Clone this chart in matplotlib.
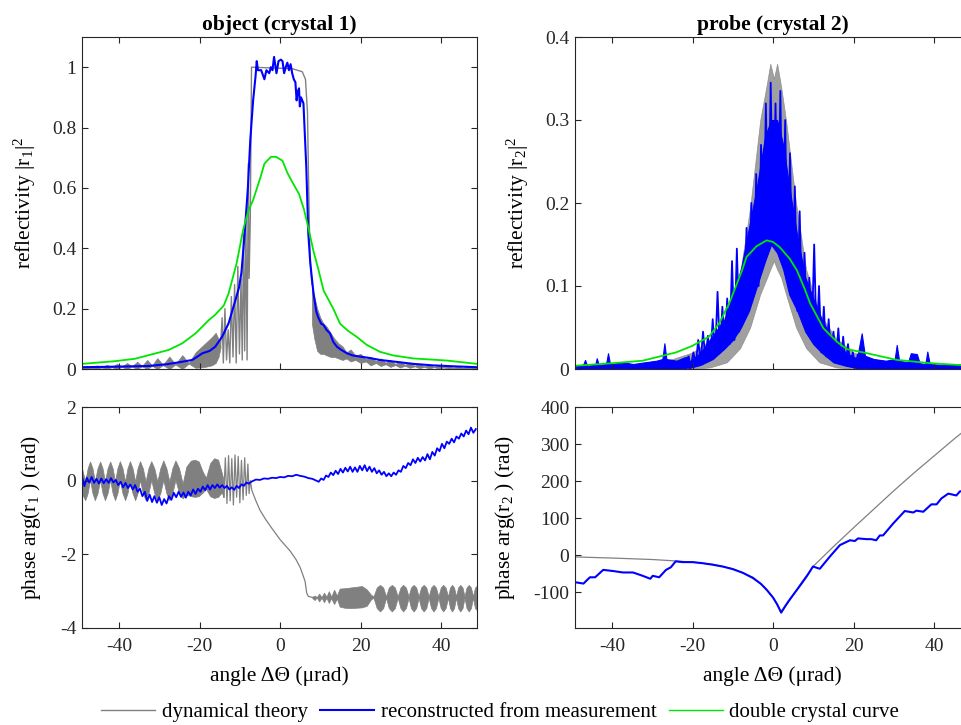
import numpy as np
import matplotlib
matplotlib.use("Agg")
import matplotlib.pyplot as plt
from matplotlib.lines import Line2D

plt.rcParams.update({
    "font.family": ["Liberation Serif", "DejaVu Serif"],
    "mathtext.fontset": "custom",
    "mathtext.rm": "Liberation Serif",
    "mathtext.it": "Liberation Serif:italic",
    "axes.unicode_minus": False,
})

GRAY = "#808080"
BLUE = "#0000ff"
GREEN = "#00e600"
AXC = "#262626"

# ------------------------------------------------------------------ data
# object (crystal 1) reflectivity -- dynamical theory, dense-oscillation envelope (left tail)
obj_th_left_x = [-49.2, -48.0, -46.8, -45.5, -44.3, -43.0, -41.8, -40.5, -39.3, -38.0, -36.8, -35.5,
                 -34.3, -33.0, -31.8, -30.5, -29.1, -27.5, -26.0, -24.3, -22.7, -21.0, -19.0, -17.0,
                 -16.0, -15.3, -14.8]
obj_th_left_lo = [0.003, 0.0, 0.004, 0.0, 0.005, 0.0, 0.006, 0.0, 0.007, 0.0, 0.008, 0.0,
                  0.009, 0.0, 0.011, 0.0, 0.013, 0.0, 0.015, 0.0, 0.018, 0.004, 0.006, 0.012,
                  0.02, 0.04, 0.07]
obj_th_left_hi = [0.004, 0.010, 0.005, 0.012, 0.006, 0.014, 0.007, 0.017, 0.008, 0.020, 0.009, 0.024,
                  0.010, 0.030, 0.012, 0.036, 0.014, 0.041, 0.016, 0.046, 0.020, 0.055, 0.080, 0.105,
                  0.12, 0.10, 0.075]
# dynamical theory: fringes, total-reflection plateau and edge
obj_th_mid_x = [-14.8, -14.4, -14.1, -13.7, -13.3, -12.9, -12.5, -12.1, -11.7, -11.3, -10.9, -10.5,
                -10.1, -9.7, -9.4, -9.1, -8.8, -8.5, -8.2, -7.9, -7.7, -7.4, -7.1, 3.0, 5.5, 6.3,
                6.8, 7.1, 7.4, 7.9]
obj_th_mid_y = [0.075, 0.17, 0.02, 0.20, 0.03, 0.13, 0.02, 0.24, 0.04, 0.28, 0.02, 0.34,
                0.05, 0.30, 0.03, 0.45, 0.06, 0.51, 0.03, 0.68, 0.30, 0.50, 1.0, 0.995, 0.985, 0.96,
                0.85, 0.60, 0.38, 0.28]
# dynamical theory: right tail envelope
obj_th_right_x = [7.9, 8.5, 9.2, 10.0, 10.8, 11.6, 12.5, 13.5, 14.5, 15.5, 16.5, 17.5, 18.7, 20.0,
                  21.3, 22.5, 23.8, 25.0, 26.2, 27.4, 28.6, 29.8, 31.0, 32.2, 33.4, 34.6, 35.8,
                  37.0, 38.2, 39.4, 40.6, 41.8, 43.0, 44.2, 45.4, 46.6, 47.8, 48.9]
obj_th_right_lo = [0.15, 0.10, 0.06, 0.05, 0.05, 0.045, 0.04, 0.04, 0.035, 0.03, 0.035, 0.025, 0.03,
                   0.02, 0.025, 0.012, 0.02, 0.01, 0.016, 0.007, 0.013, 0.005, 0.011, 0.004, 0.009,
                   0.003, 0.007, 0.002, 0.006, 0.002, 0.005, 0.001, 0.004, 0.001, 0.003, 0.001,
                   0.003, 0.001]
obj_th_right_hi = [0.28, 0.24, 0.20, 0.17, 0.15, 0.14, 0.12, 0.10, 0.085, 0.075, 0.055, 0.065, 0.045,
                   0.05, 0.033, 0.04, 0.026, 0.035, 0.021, 0.03, 0.017, 0.025, 0.014, 0.022, 0.011,
                   0.018, 0.009, 0.015, 0.007, 0.012, 0.006, 0.010, 0.005, 0.009, 0.004, 0.008,
                   0.004, 0.007]
# reconstructed
obj_rec_x = [-49.2, -44.0, -40.0, -36.0, -32.6, -28.0, -24.3, -21.8, -19.3, -17.5, -16.1, -14.4,
             -12.8, -11.1, -10.2, -9.6, -8.8, -8.0, -7.4, -6.7, -6.1, -5.8, -5.5, -4.7, -3.9,
             -3.4, -2.7, -2.3, -1.9, -1.5, -0.9, -0.4, 0.2, 0.6, 1.0, 1.4, 1.8, 2.2, 2.6, 3.0,
             3.4, 3.8, 4.1, 4.4, 4.7, 4.9, 5.2, 5.8, 6.5, 7.0, 7.5, 8.3, 9.0, 9.5, 10.2, 10.8,
             11.5, 12.4, 13.2, 14.1, 15.0, 16.6, 18.0, 19.9, 22.0, 24.8, 28.0, 33.1, 38.0, 43.0,
             48.9]
obj_rec_y = [0.006, 0.007, 0.008, 0.009, 0.010, 0.016, 0.024, 0.030, 0.052, 0.060, 0.074, 0.107,
             0.151, 0.228, 0.27, 0.32, 0.45, 0.60, 0.76, 0.89, 0.97, 1.02, 0.99, 0.99, 0.96,
             0.99, 0.98, 1.00, 0.99, 1.034, 0.98, 1.02, 1.025, 1.02, 0.98, 1.00, 1.015, 0.99, 1.01, 0.98,
             0.96, 0.95, 0.89, 0.92, 0.93, 0.87, 0.90, 0.88, 0.67, 0.45, 0.35, 0.25, 0.19, 0.17, 0.15,
             0.146, 0.13, 0.118, 0.09, 0.074, 0.065, 0.052, 0.045, 0.041, 0.037, 0.030, 0.025,
             0.017, 0.012, 0.009, 0.006]
# double crystal curve
obj_dc_x = [-49.2, -40.9, -36.0, -32.6, -27.7, -24.3, -21.0, -17.7, -16.1, -14.0, -12.8, -10.8,
            -9.2, -8.0, -6.7, -5.0, -3.9, -2.3, -1.0, 0.6, 1.8, 3.0, 4.7, 5.9, 6.8, 8.3, 9.5,
            10.8, 13.2, 14.9, 17.0, 19.0, 21.5, 24.8, 28.1, 33.1, 41.4, 48.9]
obj_dc_y = [0.017, 0.026, 0.034, 0.046, 0.063, 0.085, 0.118, 0.162, 0.18, 0.21, 0.25, 0.35,
            0.46, 0.52, 0.56, 0.63, 0.68, 0.703, 0.703, 0.69, 0.65, 0.62, 0.58, 0.53, 0.48, 0.39,
            0.33, 0.26, 0.20, 0.15, 0.125, 0.107, 0.08, 0.057, 0.045, 0.035, 0.028, 0.017]

# probe (crystal 2) reflectivity
prb_th_x = [-48.9, -40.0, -30.0, -25.0, -20.0, -15.6, -11.5, -8.2, -5.7, -3.2, -1.5, -0.7, 0.2,
            1.0, 2.0, 3.2, 5.7, 8.2, 11.5, 15.6, 20.0, 25.0, 30.0, 40.0, 48.9]
prb_th_lo = [0.0, 0.0, 0.0, 0.0, 0.0, 0.002, 0.008, 0.025, 0.05, 0.09, 0.11, 0.12, 0.13,
             0.12, 0.11, 0.09, 0.05, 0.025, 0.008, 0.002, 0.0, 0.0, 0.0, 0.0, 0.0]
prb_th_hi = [0.003, 0.004, 0.007, 0.012, 0.02, 0.035, 0.067, 0.115, 0.195, 0.30, 0.345, 0.368, 0.35,
             0.368, 0.34, 0.30, 0.20, 0.12, 0.067, 0.037, 0.02, 0.012, 0.008, 0.005, 0.004]
# reconstructed: noisy tails (envelope), dense central band and its spikes
prb_rec_tail_left_x = [-48.9, -47.2, -46.7, -46.2, -44.2, -43.8, -43.3, -41.5, -41.0, -40.5, -37.0,
                       -34.8, -32.0, -29.0, -27.5, -27.0, -26.5, -24.0, -22.0, -21.0]
prb_rec_tail_left_lo = [0.0, 0.0, 0.0, 0.001, 0.001, 0.0, 0.001, 0.001, 0.0, 0.001, 0.001,
                        0.0, 0.001, 0.0, 0.0, 0.0, 0.0, 0.0, 0.001, 0.002]
prb_rec_tail_left_hi = [0.004, 0.005, 0.011, 0.004, 0.005, 0.013, 0.005, 0.006, 0.019, 0.006, 0.008,
                        0.006, 0.008, 0.010, 0.012, 0.031, 0.012, 0.010, 0.014, 0.015]
prb_rec_tail_right_x = [21.0, 22.0, 22.8, 25.0, 28.0, 30.2, 30.7, 31.3, 33.5, 34.2, 35.7, 36.4, 37.8,
                        38.3, 38.9, 42.0, 45.0, 48.9]
prb_rec_tail_right_lo = [0.001, 0.001, 0.001, 0.0, 0.0, 0.0, 0.0, 0.0, 0.0, 0.0, 0.0, 0.0, 0.0,
                         0.0, 0.0, 0.0, 0.0, 0.0]
prb_rec_tail_right_hi = [0.017, 0.043, 0.016, 0.012, 0.010, 0.012, 0.029, 0.010, 0.008, 0.019, 0.018,
                         0.007, 0.006, 0.021, 0.006, 0.005, 0.006, 0.004]
prb_rec_band_x = [-21.0, -18.0, -15.0, -12.0, -10.0, -8.0, -6.0, -4.0, -2.0, -0.5, 1.0, 2.5, 4.0,
                  6.0, 8.0, 10.0, 12.0, 15.0, 18.0, 21.0]
prb_rec_band_lo = [0.001, 0.005, 0.012, 0.025, 0.035, 0.05, 0.07, 0.10, 0.13, 0.15, 0.14, 0.12, 0.09,
                   0.07, 0.045, 0.03, 0.02, 0.008, 0.004, 0.001]
prb_rec_band_hi = [0.008, 0.020, 0.040, 0.060, 0.090, 0.12, 0.17, 0.22, 0.28, 0.30, 0.30, 0.27, 0.22,
                   0.16, 0.11, 0.085, 0.06, 0.035, 0.020, 0.012]
prb_rec_core_x = [-21.0, -20.4, -19.8, -19.2, -18.6, -18.0, -17.4, -16.8, -16.2, -15.6, -15.0, -14.4,
                  -13.8, -13.2, -12.6, -12.0, -11.4, -10.8, -10.2, -9.6, -9.0, -8.4, -7.8, -7.2,
                  -6.6, -6.0, -5.4, -4.8, -4.2, -3.6, -3.0, -2.4, -1.8, -1.2, -0.6, 0.0, 0.6, 1.2,
                  1.8, 2.4, 3.0, 3.6, 4.2, 4.8, 5.4, 6.0, 6.6, 7.2, 7.8, 8.4, 9.0, 9.6, 10.2, 10.8,
                  11.4, 12.0, 12.6, 13.2, 13.8, 14.4, 15.0, 15.6, 16.2, 16.8, 17.4, 18.0, 18.6,
                  19.2, 19.8, 20.4, 21.0]
prb_rec_core_y = [0.015, 0.003, 0.020, 0.005, 0.035, 0.008, 0.045, 0.010, 0.040, 0.012, 0.060, 0.015,
                  0.093, 0.020, 0.075, 0.025, 0.085, 0.030, 0.130, 0.035, 0.145, 0.045, 0.120, 0.060,
                  0.170, 0.075, 0.200, 0.090, 0.235, 0.100, 0.270, 0.130, 0.320, 0.150, 0.345, 0.160,
                  0.320, 0.140, 0.335, 0.130, 0.300, 0.110, 0.260, 0.090, 0.220, 0.070, 0.190, 0.060,
                  0.140, 0.045, 0.110, 0.035, 0.150, 0.030, 0.100, 0.020, 0.075, 0.015, 0.060, 0.012,
                  0.045, 0.008, 0.049, 0.006, 0.039, 0.005, 0.030, 0.004, 0.020, 0.003, 0.017]
prb_dc_x = [-48.9, -39.8, -32.4, -24.1, -20.0, -15.9, -13.4, -10.9, -9.3, -7.7, -6.6, -4.1, -1.6,
            0.0, 1.6, 4.1, 5.9, 7.8, 9.2, 12.5, 15.8, 18.3, 23.3, 30.7, 39.0, 48.9]
prb_dc_y = [0.004, 0.007, 0.010, 0.020, 0.028, 0.039, 0.055, 0.079, 0.099, 0.119, 0.135, 0.148, 0.155,
            0.153, 0.147, 0.133, 0.119, 0.097, 0.079, 0.049, 0.033, 0.024, 0.019, 0.011, 0.007, 0.004]

# object phase
obj_ph_th_left_x = [-49.2, -48.4, -47.8, -47.2, -46.6, -46.0, -45.35, -44.7, -44.1, -43.5, -42.85,
                    -42.2, -41.6, -41.0, -40.4, -39.8, -39.15, -38.5, -37.9, -37.3, -36.65, -36.0,
                    -35.4, -34.8, -34.1, -33.4, -32.7, -32.0, -31.25, -30.5, -29.75, -29.0, -28.25,
                    -27.5, -26.75, -26.0, -25.1, -24.2, -23.3, -22.2, -21.2, -20.2, -19.2, -18.4,
                    -17.4, -16.4, -15.4, -14.5, -14.0]
obj_ph_th_left_lo = [-0.36, -0.53, -0.34, 0.02, -0.34, -0.53, -0.34, 0.02, -0.34, -0.53, -0.34,
                     0.02, -0.34, -0.53, -0.34, 0.02, -0.34, -0.53, -0.34, 0.02, -0.34, -0.53,
                     -0.34, 0.02, -0.34, -0.53, -0.34, 0.02, -0.34, -0.53, -0.34, 0.02, -0.34,
                     -0.53, -0.34, 0.02, -0.34, -0.48, -0.38, -0.42, -0.44, -0.42, -0.32, -0.22,
                     -0.42, -0.47, -0.44, -0.32, -0.45]
obj_ph_th_left_hi = [0.33, -0.02, 0.34, 0.52, 0.34, -0.02, 0.34, 0.52, 0.34, -0.02, 0.34,
                     0.52, 0.34, -0.02, 0.34, 0.53, 0.34, -0.02, 0.34, 0.53, 0.34, -0.02,
                     0.34, 0.53, 0.34, -0.02, 0.34, 0.53, 0.34, -0.02, 0.34, 0.55, 0.34,
                     -0.02, 0.34, 0.55, 0.34, -0.08, 0.38, 0.54, 0.57, 0.52, 0.24, 0.08,
                     0.47, 0.61, 0.57, 0.22, 0.0]
obj_ph_th_mid_x = [-14.0, -13.6, -13.2, -12.8, -12.4, -12.0, -11.6, -11.2, -10.8, -10.4, -10.0, -9.6,
                   -9.2, -8.8, -8.4, -8.0, -7.7, -7.4, -7.0, -6.0, -5.0, -3.6, -2.0, 0.0, 2.5, 4.0,
                   5.0, 6.2, 6.6, 7.0, 8.0]
obj_ph_th_mid_y = [-0.45, 0.62, -0.62, 0.68, -0.55, 0.60, -0.66, 0.70, -0.45, 0.66, -0.60, 0.55,
                   -0.52, 0.62, -0.40, 0.45, -0.35, 0.0, -0.27, -0.55, -0.80, -1.05, -1.30, -1.60,
                   -1.91, -2.15, -2.36, -2.73, -3.05, -3.14, -3.17]
obj_ph_th_right_x = [8.0, 8.6, 9.1, 9.7, 10.3, 10.9, 11.5, 12.1, 12.7, 13.4, 14.1, 14.8, 16.0, 17.5,
                     19.0, 20.3, 21.5, 22.6, 23.2, 24.0, 24.8, 25.6, 26.3, 27.0, 27.75, 28.5, 29.2,
                     29.9, 30.55, 31.25, 31.9, 32.5, 33.15, 33.8, 34.4, 35.0, 35.65, 36.3, 36.9,
                     37.5, 38.1, 38.7, 39.3, 39.9, 40.5, 41.1, 41.7, 42.2, 42.7, 43.2, 43.7, 44.2,
                     44.75, 45.3, 45.8, 46.3, 46.85, 47.4, 47.9, 48.4, 48.9]
obj_ph_th_right_lo = [-3.19, -3.24, -3.17, -3.28, -3.18, -3.30, -3.18, -3.32, -3.19, -3.35, -3.20,
                      -3.42, -3.45, -3.46, -3.45, -3.44, -3.40, -3.22, -3.18,
                      -3.46, -3.55, -3.46, -3.18, -3.46, -3.55, -3.46, -3.18,
                      -3.46, -3.55, -3.46, -3.18, -3.46, -3.55, -3.46, -3.18, -3.46, -3.55, -3.46, -3.18,
                      -3.46, -3.55, -3.46, -3.18, -3.46, -3.55, -3.46, -3.18, -3.46, -3.55, -3.46,
                      -3.18, -3.46, -3.55, -3.46, -3.18, -3.46, -3.55, -3.46, -3.18, -3.46, -3.52]
obj_ph_th_right_hi = [-3.15, -3.12, -3.16, -3.07, -3.16, -3.04, -3.15, -3.00, -3.15, -2.96, -3.12,
                      -2.93, -2.92, -2.90, -2.88, -2.86, -2.95, -3.10, -3.14,
                      -2.90, -2.83, -2.90, -3.14, -2.90, -2.83, -2.90, -3.14,
                      -2.90, -2.83, -2.90, -3.14, -2.90, -2.83, -2.90, -3.14, -2.90, -2.83, -2.90, -3.14,
                      -2.90, -2.83, -2.90, -3.14, -2.90, -2.83, -2.90, -3.14, -2.90, -2.83, -2.90,
                      -3.14, -2.90, -2.83, -2.90, -3.14, -2.90, -2.83, -2.90, -3.14, -2.90, -2.85]
obj_ph_rec_left_y = [0.12, -0.15, 0.08, -0.05, 0.10, -0.06, 0.05, -0.08, 0.06, -0.07, 0.04, -0.06,
                     0.07, -0.05, 0.02, -0.12, -0.03, -0.18, -0.06, -0.20, -0.10, -0.24, -0.12, -0.30,
                     -0.22, -0.42, -0.30, -0.55, -0.38, -0.58, -0.42, -0.60, -0.45, -0.66, -0.50, -0.62,
                     -0.42, -0.52, -0.33, -0.45, -0.30, -0.44, -0.32, -0.46, -0.30, -0.40, -0.24, -0.36,
                     -0.22, -0.30, -0.16, -0.26, -0.12, -0.24, -0.12, -0.20, -0.10, -0.19, -0.12, -0.20,
                     -0.14, -0.24, -0.18, -0.25, -0.14, -0.20, -0.10, -0.14, -0.05, -0.08]
obj_ph_rec_mid_x = [-7.0, -6.0, -5.0, -4.0, -3.0, -2.0, -1.0, 0.0, 1.0, 2.0, 3.0, 4.0, 5.0, 6.0, 7.0, 8.0, 9.0]
obj_ph_rec_mid_y = [-0.02, 0.03, 0.02, 0.06, 0.05, 0.08, 0.07, 0.10, 0.09, 0.13, 0.12, 0.16, 0.13,
                    0.11, 0.07, 0.05, 0.00]
obj_ph_rec_right_y = [-0.03, 0.06, 0.02, 0.14, 0.10, 0.22, 0.15, 0.27, 0.18, 0.32, 0.22, 0.35, 0.25,
                      0.38, 0.24, 0.36, 0.24, 0.40, 0.28, 0.42, 0.26, 0.38, 0.24, 0.34, 0.20, 0.28,
                      0.16, 0.24, 0.12, 0.20, 0.12, 0.22, 0.16, 0.28, 0.24, 0.40, 0.34, 0.48, 0.42,
                      0.58, 0.48, 0.62, 0.52, 0.64, 0.55, 0.72, 0.58, 0.78, 0.68, 0.88, 0.80, 1.00,
                      0.88, 1.06, 1.00, 1.14, 1.04, 1.20, 1.14, 1.28, 1.20, 1.36, 1.26, 1.44, 1.30, 1.40]

# probe phase
prb_ph_th_x = [-49.2, -40.0, -30.0, -24.0, -20.0, -15.0, -10.0, -5.0, -2.0, 0.0, 1.0, 2.0, 3.0,
               5.0, 7.0, 9.0, 10.0, 15.0, 20.0, 25.0, 30.0, 35.0, 40.0, 45.0, 48.9]
prb_ph_th_y = [-5, -8, -12, -16, -19, -25, -37, -60, -88, -115, -133, -157, -140,
               -108, -75, -45, -30, 23, 74, 124, 174, 222, 268, 314, 348]
prb_ph_rec_x = [-48.8, -47.1, -45.5, -44.2, -42.2, -39.8, -37.3, -34.8, -32.4, -30.5, -29.9, -28.3,
                -26.6, -25.4, -24.2, -22.5, -20.0, -17.5, -15.0, -12.5, -10.0, -7.5, -5.0, -3.0,
                -1.5, 0.0, 1.0, 2.0, 3.0, 4.0, 5.5, 7.0, 8.5, 9.9, 11.6, 14.1, 16.6, 19.1, 20.3,
                21.1, 23.2, 24.4, 25.6, 26.5, 27.3, 29.8, 32.7, 34.8, 35.6, 37.3, 39.3, 40.6, 41.8,
                43.5, 44.7, 45.5, 46.4, 48.9]
prb_ph_rec_y = [-74, -77, -60, -60, -40, -43, -47, -47, -56, -64, -56, -60,
                -40, -33, -17, -19, -19, -22, -26, -31, -38, -48, -62, -78,
                -95, -115, -133, -155, -138, -122, -100, -78, -55, -31, -37, -4, 27, 40, 38,
                45, 43, 43, 40, 53, 53, 85, 119, 115, 120, 117, 137, 137, 153,
                166, 163, 161, 172, 175]

x_ticks = [-40, -20, 0, 20, 40]
x_tick_labels = ["-40", "-20", "0", "20", "40"]
XLIM = (-49.2, 48.9)

# ------------------------------------------------------------------ figure
W, H = 962, 725
fig = plt.figure(figsize=(W / 100, H / 100), dpi=100)

def box(l, t, r, b):
    return [l / W, 1 - b / H, (r - l) / W, (b - t) / H]

ax1 = fig.add_axes(box(82, 37, 477, 369))
ax2 = fig.add_axes(box(575, 37, 970, 369))
ax3 = fig.add_axes(box(82, 407, 477, 628))
ax4 = fig.add_axes(box(575, 407, 970, 628))

def style(ax, yt, ytl, ylim, xlabels):
    ax.set_xlim(*XLIM)
    ax.set_ylim(*ylim)
    ax.set_xticks(x_ticks)
    ax.set_xticklabels(x_tick_labels if xlabels else [])
    ax.set_yticks(yt)
    ax.set_yticklabels(ytl)
    ax.tick_params(direction="in", length=4, width=0.8, colors=AXC, labelsize=14,
                   top=True, right=True, labelcolor=AXC)
    ax.tick_params(axis="x", pad=7)
    ax.tick_params(axis="y", pad=4)
    for s in ax.spines.values():
        s.set_color(AXC)
        s.set_linewidth(0.8)

# --- top left
ax1.fill_between(obj_th_left_x, obj_th_left_lo, obj_th_left_hi, color=GRAY, lw=0.5)
ax1.plot(obj_th_mid_x, obj_th_mid_y, color=GRAY, lw=1.0)
ax1.fill_between(obj_th_right_x, obj_th_right_lo, obj_th_right_hi, color=GRAY, lw=0.5)
ax1.plot(obj_rec_x, obj_rec_y, color=BLUE, lw=1.5)
ax1.plot(obj_dc_x, obj_dc_y, color=GREEN, lw=1.3)
style(ax1, [0, 0.2, 0.4, 0.6, 0.8, 1.0], ["0", "0.2", "0.4", "0.6", "0.8", "1"], (0, 1.1), False)
ax1.set_title("object (crystal 1)", fontsize=15.5, fontweight="bold", pad=5)
ax1.set_ylabel(r"reflectivity |r$_1$|$^2$", fontsize=15.5)
ax1.yaxis.set_label_coords(-0.112, 0.5)

# --- top right
ax2.fill_between(prb_th_x, prb_th_lo, prb_th_hi, color=GRAY, lw=0.5, alpha=0.75)
ax2.fill_between(prb_rec_tail_left_x, prb_rec_tail_left_lo, prb_rec_tail_left_hi, color=BLUE, lw=0.8)
ax2.fill_between(prb_rec_tail_right_x, prb_rec_tail_right_lo, prb_rec_tail_right_hi, color=BLUE, lw=0.8)
ax2.fill_between(prb_rec_band_x, prb_rec_band_lo, prb_rec_band_hi, color=BLUE, lw=0.8)
ax2.plot(prb_rec_core_x, prb_rec_core_y, color=BLUE, lw=1.3)
ax2.plot(prb_dc_x, prb_dc_y, color=GREEN, lw=1.3)
style(ax2, [0, 0.1, 0.2, 0.3, 0.4], ["0", "0.1", "0.2", "0.3", "0.4"], (0, 0.4), False)
ax2.set_title("probe (crystal 2)", fontsize=15.5, fontweight="bold", pad=5)
ax2.set_ylabel(r"reflectivity |r$_2$|$^2$", fontsize=15.5)
ax2.yaxis.set_label_coords(-0.112, 0.5)

# --- bottom left
obj_ph_rec_left_x = np.round(np.arange(-49.2, -7.75, 0.6), 2)
obj_ph_rec_right_x = np.round(np.arange(9.6, 48.65, 0.6), 2)
ax3.fill_between(obj_ph_th_left_x, obj_ph_th_left_lo, obj_ph_th_left_hi, color=GRAY, lw=0.5)
ax3.plot(obj_ph_th_mid_x, obj_ph_th_mid_y, color=GRAY, lw=0.9)
ax3.fill_between(obj_ph_th_right_x, obj_ph_th_right_lo, obj_ph_th_right_hi, color=GRAY, lw=0.5)
rec_x = list(obj_ph_rec_left_x) + obj_ph_rec_mid_x + list(obj_ph_rec_right_x)
rec_y = obj_ph_rec_left_y + obj_ph_rec_mid_y + obj_ph_rec_right_y
ax3.plot(rec_x, rec_y, color=BLUE, lw=1.3)
style(ax3, [-4, -2, 0, 2], ["-4", "-2", "0", "2"], (-4, 2), True)
ax3.set_ylabel(r"phase arg(r$_1$ ) (rad)", fontsize=15.5)
ax3.yaxis.set_label_coords(-0.098, 0.5)
ax3.set_xlabel("angle ΔΘ (μrad)", fontsize=15.5)
ax3.xaxis.set_label_coords(0.5, -0.175)

# --- bottom right
ax4.plot(prb_ph_th_x, prb_ph_th_y, color=GRAY, lw=0.9)
ax4.plot(prb_ph_rec_x, prb_ph_rec_y, color=BLUE, lw=1.5)
style(ax4, [-100, 0, 100, 200, 300, 400], ["-100", "0", "100", "200", "300", "400"], (-197, 400), True)
ax4.set_ylabel(r"phase arg(r$_2$ ) (rad)", fontsize=15.5)
ax4.yaxis.set_label_coords(-0.147, 0.5)
ax4.set_xlabel("angle ΔΘ (μrad)", fontsize=15.5)
ax4.xaxis.set_label_coords(0.5, -0.175)

# --- legend
handles = [Line2D([], [], color=GRAY, lw=1.0),
           Line2D([], [], color=BLUE, lw=1.5),
           Line2D([], [], color=GREEN, lw=1.0)]
labels = ["dynamical theory", "reconstructed from measurement", "double crystal curve"]
fig.legend(handles, labels, loc="center", bbox_to_anchor=(0.52, 0.017), ncol=3, frameon=False,
           fontsize=15, handlelength=2.6, handletextpad=0.3, columnspacing=0.6,
           borderaxespad=0, borderpad=0)

fig.savefig("out.png", dpi=100)
